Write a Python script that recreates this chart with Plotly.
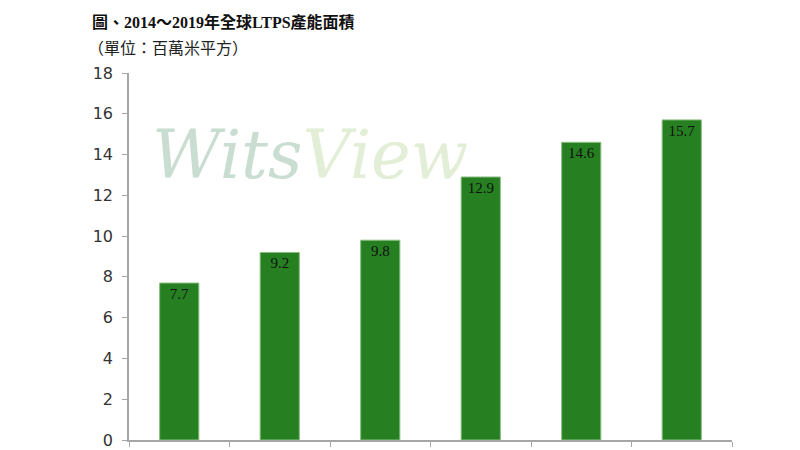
import plotly.graph_objects as go

years = ["2014", "2015", "2016", "2017", "2018", "2019"]
capacity = [7.7, 9.2, 9.8, 12.9, 14.6, 15.7]
y_ticks = [0, 2, 4, 6, 8, 10, 12, 14, 16, 18]

title_text = "圖、2014～2019年全球LTPS產能面積"
unit_text = "（單位：百萬米平方）"

cjk_serif = "Liberation Serif, Noto Sans CJK TC, serif"

# the page body has an 8px margin; figure is sized/offset to compensate
OFF = 8
PLOT_W = 732 - 129
PLOT_H = 440 - 73

fig = go.Figure()
fig.add_trace(go.Bar(
    x=years,
    y=capacity,
    marker=dict(color="rgb(38,128,34)", line=dict(color="rgb(140,190,130)", width=1)),
    width=0.39,
    text=[f"{v:.1f}" for v in capacity],
    textposition="inside",
    insidetextanchor="end",
    textangle=0,
    textfont=dict(family="Liberation Serif, serif", size=15, color="#111111"),
    cliponaxis=False,
    hoverinfo="skip",
))

fig.update_layout(
    width=800 - OFF,
    height=450 - OFF,
    paper_bgcolor="white",
    plot_bgcolor="white",
    showlegend=False,
    margin=dict(l=129 - OFF, r=800 - 732, t=73 - OFF, b=450 - 440, autoexpand=False),
    bargap=0.61,
    xaxis=dict(
        type="category",
        showticklabels=False,
        showline=True,
        linecolor="#a6a6a6",
        linewidth=1.5,
        ticks="outside",
        tickson="boundaries",
        ticklen=5,
        tickcolor="#a6a6a6",
        showgrid=False,
        zeroline=False,
        automargin=False,
    ),
    yaxis=dict(
        range=[0, 18],
        tickvals=y_ticks,
        showline=True,
        linecolor="#a6a6a6",
        linewidth=1.5,
        ticks="outside",
        ticklen=5,
        tickcolor="#a6a6a6",
        showgrid=False,
        zeroline=False,
        automargin=False,
        tickfont=dict(family="DejaVu Sans", size=16, color="#333333"),
        ticklabelstandoff=6,
    ),
    annotations=[
        dict(
            text="<b>" + title_text + "</b>", xref="paper", yref="paper",
            x=(90 - 129) / PLOT_W, y=1.0, xanchor="left", yanchor="middle",
            yshift=73 - 22,
            showarrow=False,
            font=dict(family=cjk_serif, size=16, color="#111111"),
        ),
        dict(
            text=unit_text, xref="paper", yref="paper",
            x=(86 - 129) / PLOT_W, y=1.0, xanchor="left", yanchor="middle",
            yshift=73 - 48,
            showarrow=False,
            font=dict(family=cjk_serif, size=16, color="#222222"),
        ),
        dict(
            text="<span style='color:#c9ddd1'>Wits</span><span style='color:#e2eed6'>View</span>",
            xref="paper", yref="paper",
            x=(150 - 129) / PLOT_W, y=(440 - 155) / PLOT_H,
            xanchor="left", yanchor="middle",
            showarrow=False,
            font=dict(family="DejaVu Serif", size=67, style="italic"),
        ),
    ],
)

fig.write_html("out.html")
